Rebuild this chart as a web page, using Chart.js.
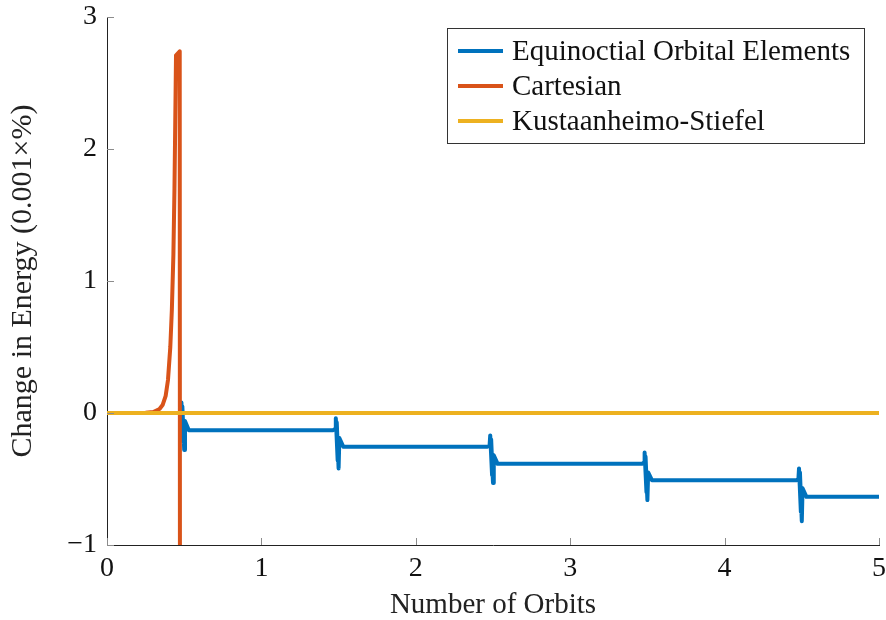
<!DOCTYPE html>
<html>
<head>
<meta charset="utf-8">
<script src="https://cdn.jsdelivr.net/npm/chart.js@4.4.1/dist/chart.umd.min.js"></script>
<style>
  html, body { margin: 0; padding: 0; background: #fff; }
  #wrap { width: 886px; height: 620px; }
</style>
</head>
<body>
<div id="wrap"><canvas id="energyChart" width="886" height="620"></canvas></div>
<script>
// values
const seriesNames = ["Equinoctial Orbital Elements", "Cartesian", "Kustaanheimo-Stiefel"];
const seriesColors = ["#0072BD", "#D95319", "#EDB120"];

const eoeX = [0,
  0.465, 0.478, 0.482, 0.494, 0.488, 0.5, 0.505, 0.53,
  1.465, 1.478, 1.482, 1.494, 1.488, 1.5, 1.505, 1.53,
  2.465, 2.478, 2.482, 2.494, 2.488, 2.5, 2.505, 2.53,
  3.465, 3.478, 3.482, 3.494, 3.488, 3.5, 3.505, 3.53,
  4.465, 4.478, 4.482, 4.494, 4.488, 4.5, 4.505, 4.53,
  5];
const eoeY = [0,
  0, 0.01, 0.08, -0.22, 0.05, -0.28, -0.06, -0.13,
  -0.13, -0.12, -0.04, -0.36, -0.07, -0.42, -0.19, -0.255,
  -0.255, -0.245, -0.17, -0.47, -0.2, -0.53, -0.32, -0.385,
  -0.385, -0.375, -0.30, -0.6, -0.33, -0.66, -0.45, -0.51,
  -0.51, -0.5, -0.42, -0.75, -0.45, -0.82, -0.57, -0.635,
  -0.635];

const cartX = [0, 0.15, 0.25, 0.3, 0.34, 0.36, 0.38, 0.395, 0.41, 0.42, 0.43, 0.437, 0.442, 0.447, 0.471, 0.473];
const cartY = [0, 0, 0.002, 0.008, 0.03, 0.06, 0.13, 0.25, 0.5, 0.78, 1.2, 1.7, 2.2, 2.71, 2.74, -3];

const ksX = [0, 1, 2, 3, 4, 5];
const ksY = [0, 0, 0, 0, 0, 0];

const xTicks = [0, 1, 2, 3, 4, 5];
const yTicks = [-1, 0, 1, 2, 3];

const serif = "'Liberation Serif', 'Times New Roman', serif";

function toPoints(xs, ys) {
  return xs.map((x, i) => ({ x, y: ys[i] }));
}

function fmt(v) {
  return v < 0 ? "\u2212" + Math.abs(v) : String(v);
}

// inward tick marks like pgfplots
const innerTicks = {
  id: "innerTicks",
  afterDraw(chart) {
    const { ctx, chartArea } = chart;
    const xs = chart.scales.x, ys = chart.scales.y;
    ctx.save();
    ctx.strokeStyle = "#8c8c8c";
    ctx.lineWidth = 1;
    ctx.beginPath();
    xTicks.forEach(v => {
      const px = Math.round(xs.getPixelForValue(v)) + 0.5;
      ctx.moveTo(px, chartArea.bottom);
      ctx.lineTo(px, chartArea.bottom - 7);
    });
    yTicks.forEach(v => {
      const py = Math.round(ys.getPixelForValue(v)) + 0.5;
      ctx.moveTo(chartArea.left, py);
      ctx.lineTo(chartArea.left + 7, py);
    });
    ctx.stroke();
    ctx.restore();
  }
};

// boxed legend in the top right corner
const boxLegend = {
  id: "boxLegend",
  afterDraw(chart) {
    const { ctx } = chart;
    const bx = 447, by = 28, bw = 417, bh = 115;
    ctx.save();
    ctx.fillStyle = "#fff";
    ctx.fillRect(bx, by, bw, bh);
    ctx.strokeStyle = "#333";
    ctx.lineWidth = 1;
    ctx.strokeRect(bx + 0.5, by + 0.5, bw, bh);
    ctx.font = "29px " + serif;
    ctx.textBaseline = "middle";
    ctx.textAlign = "left";
    seriesNames.forEach((name, i) => {
      const y = 51 + i * 35;
      ctx.strokeStyle = seriesColors[i];
      ctx.lineWidth = 4;
      ctx.beginPath();
      ctx.moveTo(458, y);
      ctx.lineTo(503, y);
      ctx.stroke();
      ctx.fillStyle = "#111";
      ctx.fillText(name, 512, y + 1);
    });
    ctx.restore();
  }
};

const ctx = document.getElementById("energyChart").getContext("2d");

new Chart(ctx, {
  type: "line",
  data: {
    datasets: [
      { label: seriesNames[0], data: toPoints(eoeX, eoeY), borderColor: seriesColors[0], order: 2 },
      { label: seriesNames[1], data: toPoints(cartX, cartY), borderColor: seriesColors[1], order: 1 },
      { label: seriesNames[2], data: toPoints(ksX, ksY), borderColor: seriesColors[2], order: 0 },
    ],
  },
  options: {
    responsive: false,
    animation: false,
    events: [],
    layout: { padding: { top: 17, right: 7, left: 0, bottom: 0 } },
    elements: {
      point: { radius: 0 },
      line: { borderWidth: 4, tension: 0, borderJoinStyle: "round", borderCapStyle: "butt", fill: false },
    },
    plugins: {
      legend: { display: false },
      tooltip: { enabled: false },
    },
    scales: {
      x: {
        type: "linear",
        min: 0,
        max: 5,
        grid: { display: false, drawTicks: false },
        border: { display: true, color: "#222", width: 1 },
        afterBuildTicks: scale => { scale.ticks = xTicks.map(v => ({ value: v })); },
        afterFit: scale => {
          scale.height = 75;
          scale.paddingLeft = 0;
          scale.paddingRight = 0;
        },
        ticks: {
          padding: 7,
          color: "#111",
          font: { family: serif, size: 28 },
          maxRotation: 0,
          callback: v => fmt(v),
        },
        title: {
          display: true,
          text: "Number of Orbits",
          color: "#222",
          font: { family: serif, size: 29, lineHeight: 1 },
          padding: { top: 1, bottom: 0 },
        },
      },
      y: {
        type: "linear",
        min: -1,
        max: 3,
        grid: { display: false, drawTicks: false },
        border: { display: true, color: "#222", width: 1 },
        afterBuildTicks: scale => { scale.ticks = yTicks.map(v => ({ value: v })); },
        afterFit: scale => {
          scale.width = 107;
          scale.paddingTop = 0;
          scale.paddingBottom = 0;
        },
        ticks: {
          padding: 10,
          color: "#111",
          font: { family: serif, size: 28 },
          callback: v => fmt(v),
        },
        title: {
          display: true,
          text: "Change in Energy (0.001\u00d7%)",
          color: "#222",
          font: { family: serif, size: 30, lineHeight: 1 },
          padding: { top: 8, bottom: 0 },
        },
      },
    },
  },
  plugins: [innerTicks, boxLegend],
});
</script>
</body>
</html>
